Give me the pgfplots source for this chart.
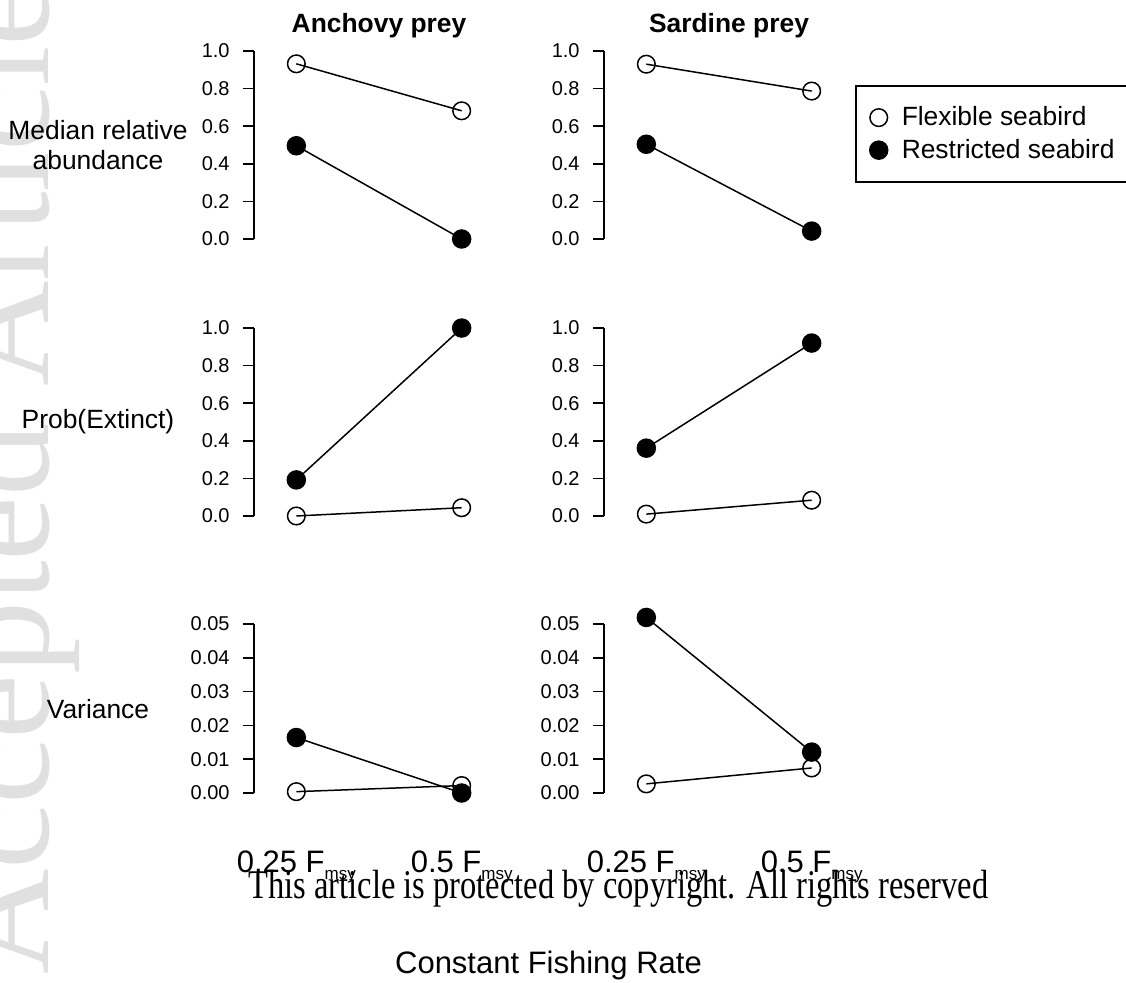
\documentclass[border=0pt]{standalone}
\usepackage{fontspec}
\setmainfont{Liberation Sans}
\newfontfamily\serifwm{Liberation Serif}
\usepackage{graphicx}
\usepackage{pgfplots}
\pgfplotsset{compat=1.18}

\tikzset{axisline/.style={line width=0.8pt, black}}
\newcommand{\msy}{\raisebox{-3.5pt}{\fontsize{8.5}{10}\selectfont msy}}
\pgfplotsset{
  panel/.style={
    scale only axis, width=125pt, height=101.5pt,
    xmin=0.744, xmax=2.256,
    anchor=south west, clip=false,
    axis y line*=left,
    y axis line style={draw=none},
    tick align=outside, major tick length=5.5pt,
    ytick style={line width=0.8pt, black},
    yticklabel style={font=\fontsize{10}{12}\selectfont, anchor=east, inner sep=0pt, xshift=-6.5pt},
    scaled y ticks=false,
    ymin=-0.04, ymax=1.04, ytick={0,0.2,0.4,0.6,0.8,1}, yticklabels={0.0,0.2,0.4,0.6,0.8,1.0},
    ylabel style={at={(axis description cs:-0.624,0.5)}, anchor=center, rotate=-90, align=center, font=\fontsize{13.2}{15}\selectfont},
    title style={at={(axis description cs:0.5,1.052)}, anchor=base, yshift=-6pt, font=\bfseries\fontsize{13.2}{15}\selectfont},
  },
  toppanel/.style={axis x line=none},
  varpanel/.style={
    ymin=-0.00222, ymax=0.0578, ytick={0,0.01,0.02,0.03,0.04,0.05},
    yticklabels={0.00,0.01,0.02,0.03,0.04,0.05},
    axis x line*=bottom, x axis line style={draw=none}, xtick style={draw=none},
    xtick={1,2},
    xticklabels={0.25 F\msy, 0.5 F\msy},
    xticklabel style={font=\fontsize{15.5}{18}\selectfont, anchor=base, inner sep=0pt, yshift=-30.25pt},
  },
  flex/.style={black, line width=0.75pt, mark=o, mark size=4.4pt, mark options={line width=0.75pt, fill=none, solid}},
  rest/.style={black, line width=0.75pt, mark=*, mark size=4.5pt, mark options={fill=black, draw=black, solid}},
}

\begin{document}
\begin{tikzpicture}
\useasboundingbox (0pt,-491pt) rectangle (563pt,0pt);

% faint watermark at the left edge
\node[anchor=base west, text=black!12, font=\serifwm\fontsize{73}{80}\selectfont, rotate=90, inner sep=0pt] at (24pt,-487.5pt) {Accepted Article};

% ---------- Row 1 ----------
\begin{axis}[panel, toppanel, at={(127pt,-123.25pt)}, title={Anchovy prey}, ylabel={Median relative\\abundance}]
\addplot[flex] coordinates {(1,0.932) (2,0.682)};
\addplot[rest] coordinates {(1,0.496) (2,0.0)};
\draw[axisline] (axis cs:0.744,0) -- (axis cs:0.744,1);
\end{axis}

\begin{axis}[panel, toppanel, at={(302pt,-123.25pt)}, title={Sardine prey},
  legend style={at={(axis description cs:1.004,0.7956)}, anchor=north west, draw=black, line width=0.75pt, fill=white,
    inner xsep=7pt, inner ysep=10.4pt, row sep=5.2pt, font=\fontsize{13.2}{15}\selectfont,
    nodes={inner sep=0pt}, cells={anchor=west}, /tikz/every odd column/.append style={column sep=7pt}},
  legend image code/.code={\draw[#1] plot coordinates {(0pt,0pt)};}]
\addplot[flex, forget plot] coordinates {(1,0.930) (2,0.787)};
\addplot[rest, forget plot] coordinates {(1,0.504) (2,0.042)};
\draw[axisline] (axis cs:0.744,0) -- (axis cs:0.744,1);
\addlegendimage{flex, only marks}
\addlegendentry{Flexible seabird}
\addlegendimage{rest, only marks}
\addlegendentry{Restricted seabird}
\end{axis}

% ---------- Row 2 ----------
\begin{axis}[panel, toppanel, at={(127pt,-261.75pt)}, ylabel={Prob(Extinct)}]
\addplot[flex] coordinates {(1,0.0) (2,0.044)};
\addplot[rest] coordinates {(1,0.192) (2,1.0)};
\draw[axisline] (axis cs:0.744,0) -- (axis cs:0.744,1);
\end{axis}

\begin{axis}[panel, toppanel, at={(302pt,-261.75pt)}]
\addplot[flex] coordinates {(1,0.010) (2,0.084)};
\addplot[rest] coordinates {(1,0.361) (2,0.920)};
\draw[axisline] (axis cs:0.744,0) -- (axis cs:0.744,1);
\end{axis}

% ---------- Row 3 ----------
\begin{axis}[panel, varpanel, at={(127pt,-400.25pt)}, ylabel={Variance},
  ylabel style={at={(axis description cs:-0.624,0.45)}}]
\addplot[flex] coordinates {(1,0.0004) (2,0.0022)};
\addplot[rest] coordinates {(1,0.0164) (2,0.0)};
\draw[axisline] (axis cs:0.744,0) -- (axis cs:0.744,0.05);
\end{axis}

\begin{axis}[panel, varpanel, at={(302pt,-400.25pt)}]
\addplot[rest] coordinates {(1,0.0519) (2,0.0121)};
\addplot[flex] coordinates {(1,0.0027) (2,0.0074)};
\draw[axisline] (axis cs:0.744,0) -- (axis cs:0.744,0.05);
\end{axis}

% copyright line and shared x label
\node[anchor=base west, inner sep=0pt, font=\serifwm\fontsize{20.4}{24}\selectfont] at (124pt,-449pt)
  {\resizebox{370pt}{\height}{This article is protected by copyright. All rights reserved}};
\node[anchor=base, inner sep=0pt, font=\fontsize{15.5}{18}\selectfont] at (274.25pt,-486.5pt) {Constant Fishing Rate};
\end{tikzpicture}
\end{document}
